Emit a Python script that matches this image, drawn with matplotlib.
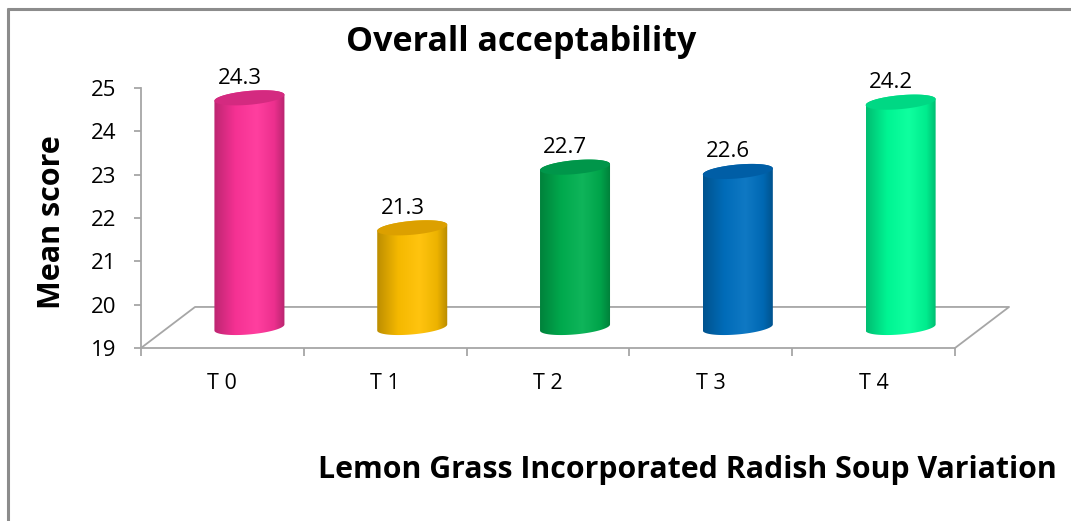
import matplotlib.pyplot as plt
import numpy as np
from matplotlib.colors import LinearSegmentedColormap, to_rgb
from matplotlib.lines import Line2D
from matplotlib.patches import Polygon

categories = ["T 0", "T 1", "T 2", "T 3", "T 4"]
scores = [24.3, 21.3, 22.7, 22.6, 24.2]
body_colors = ["#FF3399", "#FFC000", "#00B050", "#0070C0", "#00FF99"]
top_colors = ["#D42A80", "#DCA000", "#00964A", "#005EA6", "#00D884"]
y_ticks = [19, 20, 21, 22, 23, 24, 25]

TITLE = "Overall acceptability"
X_TITLE = "Lemon Grass Incorporated Radish Soup Variation"
Y_TITLE = "Mean score"

FONT = "Open Sans"
GRID_GRAY = "#A6A6A6"

# 3-D look: floor depth in data units, cylinder radius and ellipse size
DX = 0.332
DY = 0.947
RADIUS = 0.215
ELL_B = 0.16
ELL_SHEAR = 0.07

W, H = 1071, 521
fig = plt.figure(figsize=(W / 100, H / 100), dpi=100)
fig.patch.set_facecolor("white")

# chart frame: left and top edges, the rest runs off the canvas
fx, fy = 7.5 / W, 1 - 8.5 / H
frame_style = dict(transform=fig.transFigure, color="#8C8C8C", lw=2.2,
                   solid_capstyle="butt")
fig.add_artist(Line2D([fx, fx], [0.0, fy + 1 / H], **frame_style))
fig.add_artist(Line2D([fx - 1 / W, 1.0], [fy, fy], **frame_style))

ax = fig.add_axes([141 / W, 1 - 348 / H, 814 / W, 260 / H])
ax.set_xlim(-0.5, len(categories) - 0.5)
ax.set_ylim(y_ticks[0], y_ticks[-1])
ax.patch.set_visible(False)
for side in ("top", "right"):
    ax.spines[side].set_visible(False)
for side in ("left", "bottom"):
    ax.spines[side].set_color(GRID_GRAY)
    ax.spines[side].set_linewidth(1.3)

ax.set_yticks(y_ticks)
ax.tick_params(axis="y", length=5, width=1.3, color=GRID_GRAY, pad=13,
               labelsize=16, direction="out")
ax.set_xticks(range(len(categories)))
ax.set_xticklabels(categories)
ax.tick_params(axis="x", which="major", length=0, pad=18, labelsize=15.5)
ax.set_xticks(np.arange(len(categories) + 1) - 0.5, minor=True)
ax.tick_params(axis="x", which="minor", length=6, width=1.3, color=GRID_GRAY,
               direction="out")
for lab in ax.get_xticklabels() + ax.get_yticklabels():
    lab.set_fontfamily(FONT)

# floor outline behind the cylinders
x0, x1, y0 = -0.5, len(categories) - 0.5, y_ticks[0]
ax.add_line(Line2D([x0, x0 + DX, x1 + DX, x1], [y0, y0 + DY, y0 + DY, y0],
                   color=GRID_GRAY, lw=1.3, clip_on=False, zorder=1))


def ellipse_pts(cx, cy, t):
    return np.column_stack((cx + RADIUS * np.cos(t),
                            cy + ELL_B * np.sin(t) + ELL_SHEAR * np.cos(t)))


def shade(c, f):
    r = np.array(to_rgb(c))
    if f < 1:
        return tuple(r * f)
    return tuple(r + (1 - r) * (f - 1))


for i, (v, body, top) in enumerate(zip(scores, body_colors, top_colors)):
    cx = i + DX / 2
    base = y0 + DY / 2
    ytop = v + DY / 2
    t_low = np.linspace(np.pi, 2 * np.pi, 60)
    t_up = np.linspace(0, np.pi, 60)
    outline = np.vstack((ellipse_pts(cx, base, t_low), ellipse_pts(cx, ytop, t_up)))
    clip = Polygon(outline, closed=True, facecolor="none", edgecolor="none")
    ax.add_patch(clip)

    cmap = LinearSegmentedColormap.from_list(
        f"cyl{i}", [(0.0, shade(body, 0.74)), (0.3, shade(body, 0.96)),
                    (0.6, shade(body, 1.06)), (0.85, shade(body, 0.93)),
                    (1.0, shade(body, 0.72))])
    grad = np.linspace(0, 1, 256).reshape(1, -1)
    im = ax.imshow(grad, cmap=cmap, aspect="auto", interpolation="bicubic",
                   extent=(cx - RADIUS, cx + RADIUS,
                           base - ELL_B - ELL_SHEAR, ytop + ELL_B + ELL_SHEAR),
                   zorder=2)
    im.set_clip_path(clip)
    im.set_clip_box(fig.bbox)

    ax.add_patch(Polygon(ellipse_pts(cx, ytop, np.linspace(0, 2 * np.pi, 120)),
                         closed=True, facecolor=top, edgecolor="none",
                         zorder=3, clip_on=False))

    ax.text(cx - 0.06, ytop + ELL_B + 0.05, f"{v:.1f}", ha="center", va="bottom",
            fontsize=16, fontfamily=FONT, zorder=4)

ax.set_xlim(-0.5, len(categories) - 0.5)
ax.set_ylim(y_ticks[0], y_ticks[-1])

fig.text(521 / W, 1 - 42 / H, TITLE, ha="center", va="center",
         fontsize=24.5, fontweight="bold", fontfamily=FONT)
fig.text(52 / W, 1 - 222 / H, Y_TITLE, ha="center", va="center", rotation=90,
         fontsize=22, fontweight="bold", fontfamily=FONT)
fig.text(318 / W, 1 - 470 / H, X_TITLE, ha="left", va="center",
         fontsize=21.8, fontweight="bold", fontfamily=FONT)

fig.savefig("out.png", dpi=100, facecolor="white")
